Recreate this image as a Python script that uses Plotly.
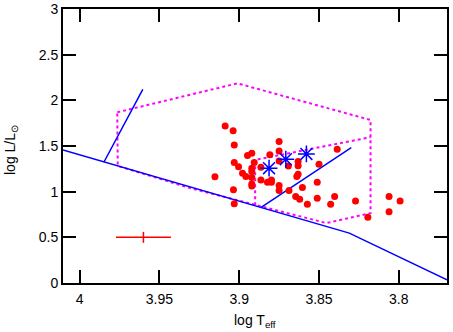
import plotly.graph_objects as go

# Observed stars (log Teff, log L/Lsun)
star_teff = [3.9088, 3.9038, 3.9031, 3.875, 3.875, 3.8808, 3.8948, 3.8921, 3.9031, 3.9004,
             3.8906, 3.8921, 3.8921, 3.8864, 3.875, 3.8692, 3.8631, 3.8631, 3.85, 3.8386,
             3.8979, 3.8958, 3.8921, 3.9152, 3.8864, 3.8823, 3.8798, 3.8798, 3.8921, 3.8921,
             3.875, 3.875, 3.8688, 3.8639, 3.8631, 3.8604, 3.8511, 3.9036, 3.9031, 3.8646,
             3.8621, 3.8573, 3.8511, 3.8427, 3.8402, 3.8271, 3.8194, 3.8061, 3.7992, 3.8061]
star_lum = [1.719, 1.668, 1.511, 1.548, 1.446, 1.405, 1.395, 1.421, 1.318, 1.274,
            1.318, 1.257, 1.220, 1.268, 1.337, 1.282, 1.329, 1.285, 1.301, 1.464,
            1.202, 1.165, 1.154, 1.162, 1.129, 1.104, 1.129, 1.104, 1.085, 1.063,
            1.067, 1.012, 1.012, 1.165, 1.191, 1.045, 1.104, 1.020, 0.867, 0.946,
            0.918, 0.863, 0.929, 0.863, 0.946, 0.899, 0.721, 0.946, 0.899, 0.779]

# Highlighted stars (asterisks)
hl_teff = [3.8813, 3.8708, 3.8579]
hl_lum = [1.257, 1.355, 1.413]

# Main-sequence line
zams_teff = [4.0104, 3.831, 3.7698]
zams_lum = [1.457, 0.546, 0.036]

# Steep line from the left kink
track1_teff = [3.9848, 3.9604]
track1_lum = [1.322, 2.12]

# Line in the middle
track2_teff = [3.8865, 3.8298]
track2_lum = [0.826, 1.482]

# Outer dotted region
outer_teff = [3.9764, 3.9011, 3.8177, 3.8177, 3.8454, 3.9313, 3.9761, 3.9764]
outer_lum = [1.869, 2.186, 1.785, 0.765, 0.656, 1.042, 1.282, 1.869]

# Inner dotted line
inner_teff = [3.89, 3.89, 3.8177]
inner_lum = [0.850, 1.348, 1.596]

# Typical error bar (centre and half-widths)
err_teff = 3.96
err_lum = 0.5
err_dx = 0.0172
err_dy = 0.06

# Axis ticks
x_ticks = [4, 3.95, 3.9, 3.85, 3.8]
y_ticks = [0, 0.5, 1, 1.5, 2, 2.5, 3]
x_range = [4.0104, 3.7698]
y_range = [0, 3]

FONT = "Liberation Sans, Arial, sans-serif"

fig = go.Figure()

fig.add_trace(go.Scatter(x=outer_teff, y=outer_lum, mode="lines",
                         line=dict(color="#ff00ff", width=2, dash="dot")))
fig.add_trace(go.Scatter(x=inner_teff, y=inner_lum, mode="lines",
                         line=dict(color="#ff00ff", width=2, dash="dot")))
fig.add_trace(go.Scatter(x=zams_teff, y=zams_lum, mode="lines",
                         line=dict(color="#0000ff", width=1.5)))
fig.add_trace(go.Scatter(x=track1_teff, y=track1_lum, mode="lines",
                         line=dict(color="#0000ff", width=1.5)))
fig.add_trace(go.Scatter(x=track2_teff, y=track2_lum, mode="lines",
                         line=dict(color="#0000ff", width=1.5)))
fig.add_trace(go.Scatter(x=star_teff, y=star_lum, mode="markers",
                         marker=dict(color="#ff0000", size=7, line=dict(width=0))))
fig.add_trace(go.Scatter(x=hl_teff, y=hl_lum, mode="markers",
                         marker=dict(symbol="asterisk-open", size=14, color="#0000ff",
                                     line=dict(color="#0000ff", width=1.5))))
# error cross drawn as two short segments
fig.add_trace(go.Scatter(x=[err_teff - err_dx, err_teff + err_dx], y=[err_lum, err_lum],
                         mode="lines", line=dict(color="#ff0000", width=1.5)))
fig.add_trace(go.Scatter(x=[err_teff, err_teff], y=[err_lum - err_dy, err_lum + err_dy],
                         mode="lines", line=dict(color="#ff0000", width=1.5)))

fig.update_layout(
    template="none",
    width=453, height=332,
    margin=dict(l=63, r=6, t=9, b=49),
    showlegend=False,
    font=dict(family=FONT, size=14, color="black"),
    annotations=[
        dict(text="log T<sub>eff</sub>", xref="paper", yref="paper", x=0.5, y=0,
             xanchor="center", yanchor="top", yshift=-27, showarrow=False,
             font=dict(family=FONT, size=14, color="black")),
        dict(text="log L/L<sub>⊙</sub>", xref="paper", yref="paper", x=0, y=0.5,
             xanchor="center", yanchor="middle", xshift=-52, yshift=-4, textangle=-90,
             showarrow=False, font=dict(family=FONT, size=14, color="black")),
    ],
    # main axes: frame and labels
    xaxis=dict(range=x_range, tickvals=x_ticks, showline=True, linewidth=2,
               linecolor="black", mirror="ticks", ticks="inside", ticklen=13,
               tickwidth=2, tickcolor="black", showgrid=False, zeroline=False,
               automargin=False, ticklabelstandoff=2),
    yaxis=dict(range=y_range, tickvals=y_ticks, showline=True, linewidth=2,
               linecolor="black", mirror="ticks", ticks="inside", ticklen=13,
               tickwidth=2, tickcolor="black", showgrid=False, zeroline=False,
               automargin=False),
    # overlay axes carrying only the inward tick marks
    xaxis2=dict(overlaying="x", anchor="y2", side="bottom", range=x_range, tickvals=x_ticks,
                showticklabels=False, showline=True, linewidth=2, linecolor="black",
                mirror="ticks", ticks="inside", ticklen=13, tickwidth=2, tickcolor="black",
                showgrid=False, zeroline=False, automargin=False),
    yaxis2=dict(overlaying="y", anchor="x2", side="left", range=y_range, tickvals=y_ticks,
                showticklabels=False, showline=True, linewidth=2, linecolor="black",
                mirror="ticks", ticks="inside", ticklen=13, tickwidth=2, tickcolor="black",
                showgrid=False, zeroline=False, automargin=False),
)

fig.write_html("out.html", config={"displayModeBar": False},
               post_script="document.body.style.margin='0';document.body.style.padding='0';")
